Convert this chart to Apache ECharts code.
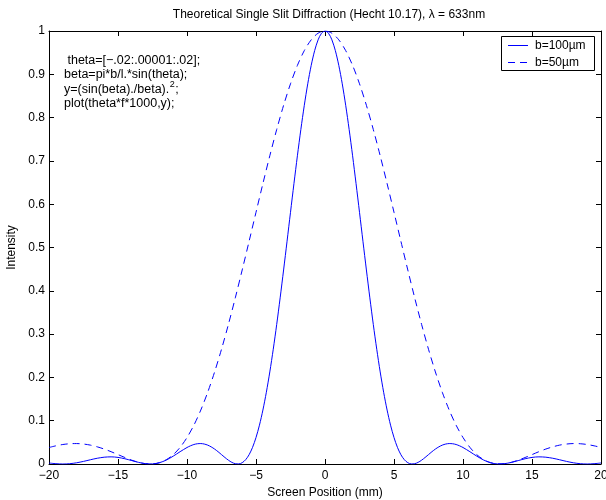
<!DOCTYPE html>
<html><head><meta charset="utf-8">
<script src="https://cdn.jsdelivr.net/npm/echarts@6/dist/echarts.min.js"></script>
<style>html,body{margin:0;padding:0;background:#fff}#c{width:606px;height:500px}</style>
</head><body><div id="c"></div>
<script>
const titleText = 'Theoretical Single Slit Diffraction (Hecht 10.17), \u03bb = 633nm';
const xName = 'Screen Position (mm)';
const yName = 'Intensity';
const seriesNames = ['b=100\u00b5m', 'b=50\u00b5m'];
const xTicks = [-20, -15, -10, -5, 0, 5, 10, 15, 20];
const yTicks = [0, 0.1, 0.2, 0.3, 0.4, 0.5, 0.6, 0.7, 0.8, 0.9, 1];
const noteLines = [' theta=[\u2212.02:.00001:.02];', 'beta=pi*b/l.*sin(theta);', 'y=(sin(beta)./beta).', '2', ';', 'plot(theta*f*1000,y);'];

const x100 = [-20,-19.5,-19,-18.5,-18,-17.5,-17,-16.5,-16,-15.5,-15,-14.5,-14,-13.5,-13,-12.5,-12,-11.5,-11,-10.5,
  -10,-9.75,-9.5,-9.25,-9,-8.75,-8.5,-8.25,-8,-7.75,-7.5,-7.25,-7,-6.75,-6.5,-6.25,-6,-5.75,-5.5,-5.25,-5,-4.75,-4.5,-4.25,-4,-3.75,-3.5,-3.25,-3,-2.75,-2.5,-2.25,-2,-1.75,-1.5,-1.25,-1,-0.75,-0.5,-0.25,
  0,0.25,0.5,0.75,1,1.25,1.5,1.75,2,2.25,2.5,2.75,3,3.25,3.5,3.75,4,4.25,4.5,4.75,5,5.25,5.5,5.75,6,6.25,6.5,6.75,7,7.25,7.5,7.75,8,8.25,8.5,8.75,9,9.25,9.5,9.75,10,
  10.5,11,11.5,12,12.5,13,13.5,14,14.5,15,15.5,16,16.5,17,17.5,18,18.5,19,19.5,20];
const y100 = [0.0023,0.0007,0.0000,0.0007,0.0028,0.0060,0.0098,0.0133,0.0157,0.0165,0.0152,0.0121,0.0079,0.0037,0.0007,0.0002,0.0029,0.0091,0.0181,0.0284,
  0.0381,0.0420,0.0450,0.0468,0.0472,0.0461,0.0436,0.0396,0.0345,0.0284,0.0217,0.0150,0.0088,0.0038,0.0007,0.0002,0.0030,0.0099,0.0215,0.0384,0.0611,0.0897,0.1246,0.1656,0.2126,0.2650,0.3223,0.3837,0.4481,0.5144,0.5813,0.6476,0.7118,0.7725,0.8284,0.8781,0.9205,0.9547,0.9796,0.9949,
  1,
  0.9949,0.9796,0.9547,0.9205,0.8781,0.8284,0.7725,0.7118,0.6476,0.5813,0.5144,0.4481,0.3837,0.3223,0.2650,0.2126,0.1656,0.1246,0.0897,0.0611,0.0384,0.0215,0.0099,0.0030,0.0002,0.0007,0.0038,0.0088,0.0150,0.0217,0.0284,0.0345,0.0396,0.0436,0.0461,0.0472,0.0468,0.0450,0.0420,0.0381,
  0.0284,0.0181,0.0091,0.0029,0.0002,0.0007,0.0037,0.0079,0.0121,0.0152,0.0165,0.0157,0.0133,0.0098,0.0060,0.0028,0.0007,0.0000,0.0007,0.0023];

const x50 = [-20,-19.5,-19,-18.5,-18,-17.5,-17,-16.5,-16,-15.5,-15,-14.5,-14,-13.5,-13,-12.5,-12,-11.5,-11,-10.5,-10,-9.5,-9,-8.5,-8,-7.5,-7,-6.5,-6,-5.5,-5,-4.5,-4,-3.5,-3,-2.5,-2,-1.5,-1,-0.5,
  0,0.5,1,1.5,2,2.5,3,3.5,4,4.5,5,5.5,6,6.5,7,7.5,8,8.5,9,9.5,10,10.5,11,11.5,12,12.5,13,13.5,14,14.5,15,15.5,16,16.5,17,17.5,18,18.5,19,19.5,20];
const y50 = [0.0381,0.0420,0.0450,0.0468,0.0472,0.0461,0.0436,0.0396,0.0345,0.0284,0.0217,0.0150,0.0088,0.0038,0.0007,0.0002,0.0030,0.0099,0.0215,0.0384,0.0611,0.0897,0.1246,0.1656,0.2126,0.2650,0.3223,0.3837,0.4481,0.5144,0.5813,0.6476,0.7118,0.7725,0.8284,0.8781,0.9205,0.9547,0.9796,0.9949,
  1,
  0.9949,0.9796,0.9547,0.9205,0.8781,0.8284,0.7725,0.7118,0.6476,0.5813,0.5144,0.4481,0.3837,0.3223,0.2650,0.2126,0.1656,0.1246,0.0897,0.0611,0.0384,0.0215,0.0099,0.0030,0.0002,0.0007,0.0038,0.0088,0.0150,0.0217,0.0284,0.0345,0.0396,0.0436,0.0461,0.0472,0.0468,0.0450,0.0420,0.0381];

const FONT = '"Liberation Sans", Arial, Helvetica, sans-serif';
const FS = 12;
const NOTE_FS = 12.5;
const BLUE = '#0000ff';
const DASH = [7, 5];
const pairs = (xs, ys) => xs.map((x, i) => [x, ys[i]]);
const fmtX = v => String(v).replace('-', '\u2212');

const mctx = document.createElement('canvas').getContext('2d');
mctx.font = NOTE_FS + 'px ' + FONT;
const w3 = mctx.measureText(noteLines[2]).width;
mctx.font = '9px ' + FONT;
const wSup = mctx.measureText(noteLines[3]).width;

const axisCommon = {
  axisLine: { show: true, onZero: false, lineStyle: { color: '#000', width: 1 } },
  axisTick: { show: true, inside: true, length: 5, lineStyle: { color: '#000' } },
  splitLine: { show: false }
};
const txt = (x, y, text, size, extra) => ({ type: 'text', x: x, y: y, z: 10,
  style: Object.assign({ text: text, fontFamily: FONT, fontSize: size || NOTE_FS, fill: '#000', verticalAlign: 'middle' }, extra || {}) });

const chart = echarts.init(document.getElementById('c'), null, { renderer: 'canvas' });
chart.setOption({
  backgroundColor: '#fff',
  animation: false,
  title: { text: titleText, left: 324, top: 4, textAlign: 'center',
    textStyle: { fontFamily: FONT, fontSize: FS, fontWeight: 'normal', color: '#000' } },
  grid: { left: 49, right: 5, top: 31, bottom: 36, containLabel: false, outerBoundsMode: 'none' },
  xAxis: [
    Object.assign({ type: 'value', min: xTicks[0], max: xTicks[xTicks.length - 1], interval: 5,
      name: xName, nameLocation: 'middle', nameGap: 21,
      nameTextStyle: { fontFamily: FONT, fontSize: FS, color: '#000' },
      axisLabel: { margin: 6, formatter: fmtX, fontFamily: FONT, fontSize: FS, color: '#000' } }, axisCommon),
    Object.assign({ type: 'value', position: 'top', min: -20, max: 20, interval: 5, axisLabel: { show: false } }, axisCommon)
  ],
  yAxis: [
    Object.assign({ type: 'value', min: yTicks[0], max: yTicks[yTicks.length - 1], interval: 0.1,
      name: yName, nameLocation: 'middle', nameGap: 21,
      nameTextStyle: { fontFamily: FONT, fontSize: FS, color: '#000' },
      axisLabel: { margin: 4, fontFamily: FONT, fontSize: FS, color: '#000' } }, axisCommon),
    Object.assign({ type: 'value', position: 'right', min: 0, max: 1, interval: 0.1, axisLabel: { show: false } }, axisCommon)
  ],
  series: [
    { name: seriesNames[0], type: 'line', xAxisIndex: 0, yAxisIndex: 0, data: pairs(x100, y100),
      showSymbol: false, symbol: 'none', smooth: 0.3, lineStyle: { color: BLUE, width: 1 }, z: 3 },
    { name: seriesNames[1], type: 'line', xAxisIndex: 0, yAxisIndex: 0, data: pairs(x50, y50),
      showSymbol: false, symbol: 'none', smooth: 0.3, lineStyle: { color: BLUE, width: 1, type: DASH }, z: 3 }
  ],
  graphic: [
    txt(64, 60.5, noteLines[0]),
    txt(64, 75, noteLines[1]),
    txt(64, 89.5, noteLines[2]),
    txt(64 + w3 + 0.5, 84.5, noteLines[3], 9),
    txt(64 + w3 + wSup + 1, 89.5, noteLines[4]),
    txt(64, 104, noteLines[5]),
    { type: 'rect', z: 10, shape: { x: 501.5, y: 36.5, width: 93, height: 34 },
      style: { fill: '#fff', stroke: '#000', lineWidth: 1 } },
    { type: 'rect', z: 11, shape: { x: 508, y: 45, width: 20, height: 1 }, style: { fill: BLUE, stroke: null } },
    { type: 'line', z: 11, shape: { x1: 508, y1: 62.5, x2: 528, y2: 62.5 }, style: { stroke: BLUE, lineWidth: 1, lineDash: DASH } },
    txt(535, 46, seriesNames[0], FS),
    txt(535, 62.5, seriesNames[1], FS)
  ]
});
</script></body></html>
